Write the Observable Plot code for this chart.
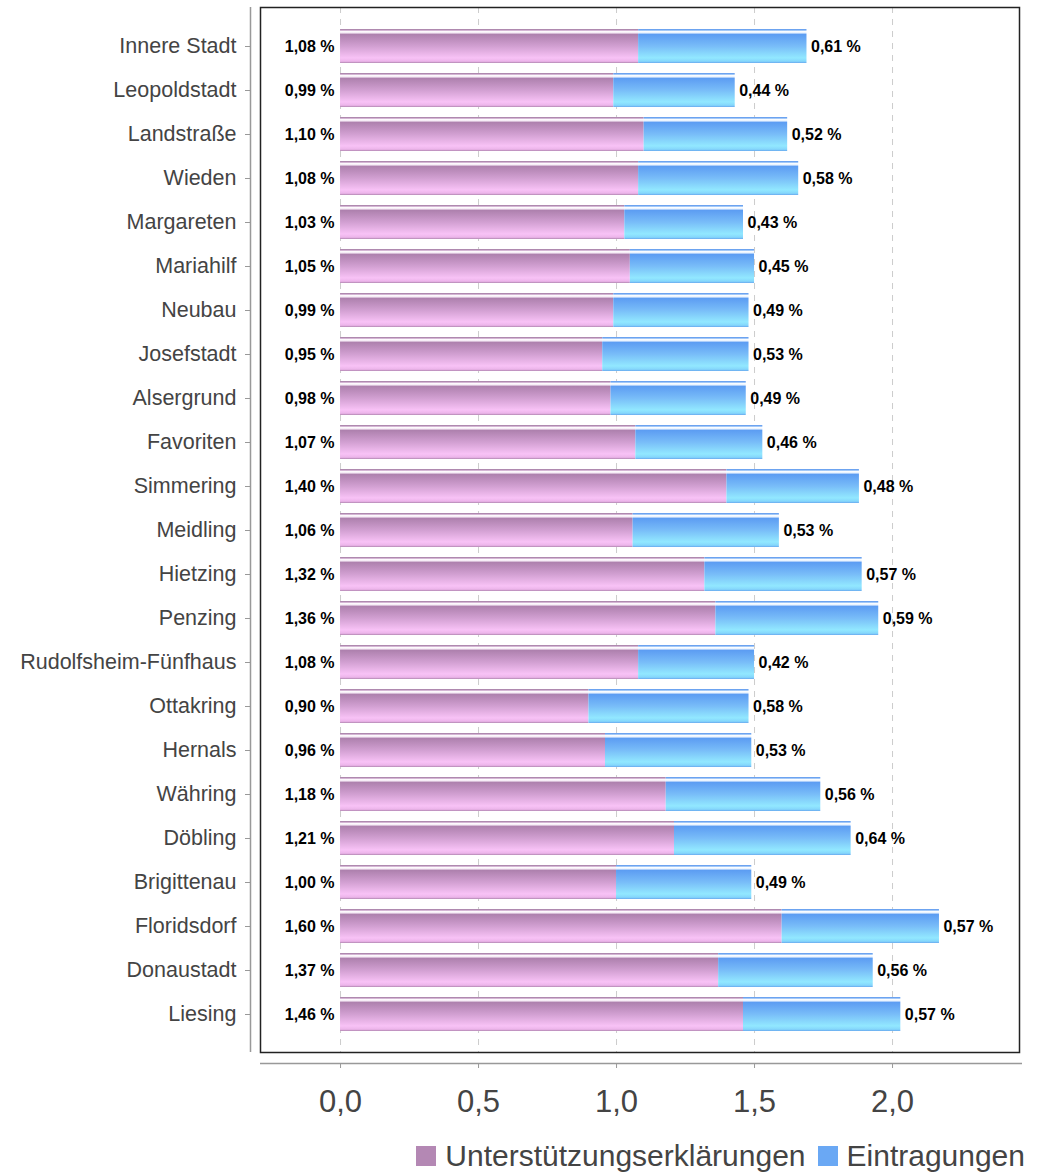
<!DOCTYPE html>
<html>
<head>
<meta charset="utf-8">
<script src="https://cdn.jsdelivr.net/npm/d3@7"></script>
<script src="https://cdn.jsdelivr.net/npm/@observablehq/plot@0.6"></script>
<style>
  body { margin: 0; background: #fff; font-family: "Liberation Sans", Arial, sans-serif; }
  #chart { width: 1044px; }
  .legend { display: flex; justify-content: flex-end; align-items: center; gap: 12px; padding-right: 19px; margin-top: 14px; font-size: 30px; line-height: 34px; color: #444; font-family: "Liberation Sans", Arial, sans-serif; }
  .legend .sw { display: inline-block; width: 20px; height: 20px; margin-right: 9px; }
  .legend span.item { display: inline-flex; align-items: center; }
</style>
</head>
<body>
<div id="chart"></div>
<script>
const districts = ["Innere Stadt","Leopoldstadt","Landstraße","Wieden","Margareten","Mariahilf","Neubau","Josefstadt","Alsergrund","Favoriten","Simmering","Meidling","Hietzing","Penzing","Rudolfsheim-Fünfhaus","Ottakring","Hernals","Währing","Döbling","Brigittenau","Floridsdorf","Donaustadt","Liesing"];
const unterstuetzung = [1.08,0.99,1.10,1.08,1.03,1.05,0.99,0.95,0.98,1.07,1.40,1.06,1.32,1.36,1.08,0.90,0.96,1.18,1.21,1.00,1.60,1.37,1.46];
const eintragungen = [0.61,0.44,0.52,0.58,0.43,0.45,0.49,0.53,0.49,0.46,0.48,0.53,0.57,0.59,0.42,0.58,0.53,0.56,0.64,0.49,0.57,0.56,0.57];
const xTicks = [0, 0.5, 1.0, 1.5, 2.0];
const seriesNames = ["Unterstützungserklärungen", "Eintragungen"];
const seriesColors = ["#b488b4", "#6aa8f4"];

const rows = districts.map((d, i) => ({district: d, u: unterstuetzung[i], e: eintragungen[i], total: unterstuetzung[i] + eintragungen[i]}));
const fmt = v => v.toFixed(2).replace(".", ",") + " %";
const tickFmt = v => v.toFixed(1).replace(".", ",");

const plot = Plot.plot({
  width: 1044,
  height: 1125,
  marginLeft: 260,
  marginRight: 25,
  marginTop: 7,
  marginBottom: 73,
  style: {fontFamily: "'Liberation Sans', Arial, sans-serif", background: "#fff"},
  x: {domain: [-0.29, 2.46], label: null},
  y: {domain: districts, label: null, padding: 0.23},
  marks: [
    Plot.ruleX(xTicks, {stroke: "#cccccc", strokeDasharray: "6,6", strokeWidth: 1}),
    Plot.barX(rows, {y: "district", x1: 0, x2: "u", fill: "url(#gPink)"}),
    Plot.barX(rows, {y: "district", x1: "u", x2: "total", fill: "url(#gBlue)"}),
    Plot.text(rows, {y: "district", x: 0, text: d => fmt(d.u), textAnchor: "end", dx: -6, fontWeight: "bold", fontSize: 16, fill: "#000"}),
    Plot.text(rows, {y: "district", x: "total", text: d => fmt(d.e), textAnchor: "start", dx: 4, fontWeight: "bold", fontSize: 16, fill: "#000"}),
    Plot.frame({stroke: "#222", strokeWidth: 1.5}),
    Plot.axisY({anchor: "left", dx: -10, tickSize: 5, tickPadding: 9, fontSize: 21.5, color: "#444", stroke: "#999", label: null}),
    Plot.axisX(xTicks, {anchor: "bottom", dy: 11, tickSize: 5, tickPadding: 21, fontSize: 31, color: "#444", stroke: "#999", tickFormat: tickFmt, label: null})
  ]
});

// gradients
const svg = d3.select(plot);
const defs = svg.insert("defs", ":first-child");
function grad(id, stops) {
  const g = defs.append("linearGradient").attr("id", id).attr("x1", 0).attr("y1", 0).attr("x2", 0).attr("y2", 1);
  stops.forEach(([o, c]) => g.append("stop").attr("offset", o).attr("stop-color", c));
}
grad("gPink", [[0, "#a07aa0"], [0.04, "#c9a3c9"], [0.06, "#ffffff"], [0.12, "#f3e6f3"], [0.15, "#ad80ad"], [0.5, "#d19fd1"], [0.85, "#f8c2f6"], [0.95, "#ecb4ea"], [1, "#b086b0"]]);
grad("gBlue", [[0, "#5a96ec"], [0.04, "#8cbaf6"], [0.06, "#ffffff"], [0.12, "#e4f0ff"], [0.15, "#5c9cf2"], [0.5, "#78bcf8"], [0.85, "#92e8ff"], [0.95, "#84d6fc"], [1, "#68a8ee"]]);

// axis lines like reference
svg.append("line").attr("x1", 260).attr("x2", 1022).attr("y1", 1063.5).attr("y2", 1063.5).attr("stroke", "#999").attr("stroke-width", 1.5);
svg.append("line").attr("x1", 250.5).attr("x2", 250.5).attr("y1", 7).attr("y2", 1052).attr("stroke", "#999").attr("stroke-width", 1.5);

document.getElementById("chart").appendChild(plot);

const legend = document.createElement("div");
legend.className = "legend";
seriesNames.forEach((n, i) => {
  const it = document.createElement("span");
  it.className = "item";
  it.innerHTML = `<span class="sw" style="background:${seriesColors[i]}"></span>${n}`;
  legend.appendChild(it);
});
document.getElementById("chart").appendChild(legend);
</script>
</body>
</html>
